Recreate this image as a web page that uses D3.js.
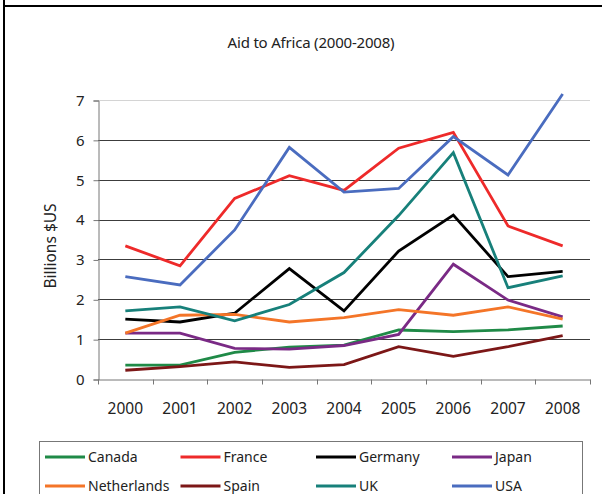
<!DOCTYPE html>
<html>
<head>
<meta charset="utf-8">
<script src="https://cdn.jsdelivr.net/npm/d3@7"></script>
<style>
  html, body { margin: 0; padding: 0; background: #fff; }
  svg text { font-family: "Noto Sans", sans-serif; fill: #222; }
</style>
</head>
<body>
<div id="chart"></div>
<script>
// data (billions $US)
var years = ["2000","2001","2002","2003","2004","2005","2006","2007","2008"];
var canada      = [0.35, 0.35, 0.67, 0.80, 0.85, 1.23, 1.19, 1.23, 1.33];
var france      = [3.34, 2.84, 4.53, 5.10, 4.73, 5.79, 6.19, 3.84, 3.34];
var germany     = [1.50, 1.43, 1.65, 2.77, 1.71, 3.21, 4.11, 2.57, 2.70];
var japan       = [1.15, 1.15, 0.77, 0.75, 0.84, 1.12, 2.88, 1.98, 1.56];
var netherlands = [1.15, 1.60, 1.62, 1.43, 1.54, 1.74, 1.60, 1.81, 1.50];
var spain       = [0.22, 0.31, 0.43, 0.29, 0.36, 0.81, 0.57, 0.81, 1.09];
var uk          = [1.71, 1.81, 1.46, 1.87, 2.67, 4.10, 5.68, 2.29, 2.59];
var usa         = [2.57, 2.36, 3.74, 5.81, 4.69, 4.78, 6.08, 5.12, 7.15];
var seriesNames = ["Canada","France","Germany","Japan","Netherlands","Spain","UK","USA"];
var seriesColors = ["#1f8a47","#ee2a2a","#000000","#7a2a85","#f47528","#7c1717","#17807a","#4a6cbf"];
var yTicks = [0,1,2,3,4,5,6,7];

var seriesValues = [canada, france, germany, japan, netherlands, spain, uk, usa];
var series = seriesNames.map(function(n,i){
    return { name: n, color: seriesColors[i], values: seriesValues[i] };
});

var width = 602, height = 494;
var plotLeft = 98, plotRight = 590, plotTop = 100, plotBottom = 379;

var svg = d3.select("#chart")
    .append("svg")
    .attr("width",width)
    .attr("height",height);

// outer frame (cell borders)
svg.append("line")
    .attr("x1",4).attr("x2",width)
    .attr("y1",6).attr("y2",6)
    .attr("stroke","#000").attr("stroke-width",2);
svg.append("line")
    .attr("x1",4).attr("x2",4)
    .attr("y1",0).attr("y2",height)
    .attr("stroke","#000").attr("stroke-width",2);

svg.append("text")
    .attr("x",311)
    .attr("y",48)
    .attr("text-anchor","middle")
    .attr("font-size",15)
    .attr("letter-spacing","-0.2")
    .text("Aid to Africa (2000-2008)");

var xScale = d3.scaleBand()
    .domain(years)
    .range([plotLeft,plotRight])
    .paddingInner(0)
    .paddingOuter(0);

var yScale = d3.scaleLinear()
    .domain([0,7])
    .range([plotBottom,plotTop]);

// gridlines
svg.append("g")
    .selectAll("line")
    .data(yTicks.filter(function(d){return d>0;}))
    .enter()
    .append("line")
    .attr("x1",plotLeft)
    .attr("x2",plotRight)
    .attr("y1",function(d){return Math.round(yScale(d))+0.5;})
    .attr("y2",function(d){return Math.round(yScale(d))+0.5;})
    .attr("stroke",function(d){return d==7 ? "#d4d4d4" : "#3c3c3c";})
    .attr("stroke-width",1);

// y axis
var yAxis = d3.axisLeft(yScale)
    .tickValues(yTicks)
    .tickSize(5)
    .tickPadding(9)
    .tickFormat(d3.format("d"));
var gy = svg.append("g")
    .attr("transform","translate("+(plotLeft+0.5)+",0.5)")
    .call(yAxis);
gy.select(".domain").attr("stroke","#777");
gy.selectAll(".tick line").attr("stroke","#777");
gy.selectAll("text").attr("font-size",15).attr("font-family","Noto Sans").attr("fill","#222");

// x axis: labels at the middle of each year, ticks on the boundaries
var xAxis = d3.axisBottom(xScale)
    .tickSize(0)
    .tickPadding(23);
var gx = svg.append("g")
    .attr("transform","translate(0,"+(plotBottom+0.5)+")")
    .call(xAxis);
gx.select(".domain").attr("stroke","#777");
gx.selectAll("text").attr("font-size",15.5).attr("font-family","Noto Sans").attr("fill","#222");
gx.selectAll(".bound")
    .data(years.concat(["end"]))
    .enter()
    .append("line")
    .attr("class","bound")
    .attr("x1",function(d){return Math.round(d=="end" ? plotRight : xScale(d))+0.5;})
    .attr("x2",function(d){return Math.round(d=="end" ? plotRight : xScale(d))+0.5;})
    .attr("y1",0)
    .attr("y2",5)
    .attr("stroke","#777");

svg.append("text")
    .attr("transform","translate(56,246) rotate(-90)")
    .attr("text-anchor","middle")
    .attr("font-size",15.5)
    .text("Billions $US");

var line = d3.line()
    .x(function(d,i){return xScale(years[i]) + xScale.bandwidth()/2;})
    .y(function(d){return yScale(d);});

svg.append("g")
    .selectAll("path")
    .data(series)
    .enter()
    .append("path")
    .attr("fill","none")
    .attr("stroke",function(d){return d.color;})
    .attr("stroke-width",2.8)
    .attr("stroke-linejoin","miter")
    .attr("d",function(d){return line(d.values);});

// legend
svg.append("rect")
    .attr("x",39.5)
    .attr("y",441.5)
    .attr("width",543)
    .attr("height",80)
    .attr("fill","none")
    .attr("stroke","#777");

var legendCols = [45, 180.5, 316, 452];
var legendRows = [457, 486];
var lg = svg.append("g")
    .selectAll("g")
    .data(series)
    .enter()
    .append("g")
    .attr("transform",function(d,i){
        return "translate("+legendCols[i%4]+","+legendRows[Math.floor(i/4)]+")";
    });
lg.append("line")
    .attr("x1",0).attr("x2",40)
    .attr("y1",0).attr("y2",0)
    .attr("stroke",function(d){return d.color;})
    .attr("stroke-width",3);
lg.append("text")
    .attr("x",43)
    .attr("y",5)
    .attr("font-size",14)
    .text(function(d){return d.name;});
</script>
</body>
</html>
